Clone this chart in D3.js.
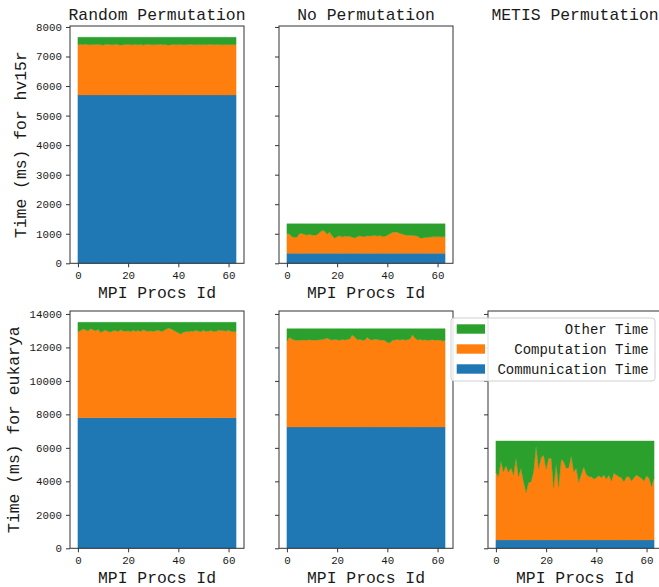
<!DOCTYPE html>
<html><head><meta charset="utf-8">
<script src="https://cdn.jsdelivr.net/npm/d3@7"></script>
<style>
body{margin:0;background:#fff}
svg text{font-family:"Liberation Mono","DejaVu Sans Mono",monospace;fill:#1a1a1a}
</style></head>
<body><svg id="chart" width="659" height="587"></svg>
<script>
// ---------- data ----------
const procIds = d3.range(64);
const columnTitles = ["Random Permutation", "No Permutation", "METIS Permutation"];
const rowLabels = ["Time (ms) for hv15r", "Time (ms) for eukarya"];
const seriesNames = ["Communication Time", "Computation Time", "Other Time"];
const xTickValues = [0, 20, 40, 60];
const yTicksHv15r = [0, 1000, 2000, 3000, 4000, 5000, 6000, 7000, 8000];
const yTicksEukarya = [0, 2000, 4000, 6000, 8000, 10000, 12000, 14000];

// hv15r, random permutation
const hvRandomComm = [5700,5700,5700,5700,5700,5700,5700,5700,5700,5700,5700,5700,5700,5700,5700,5700,5700,5700,5700,5700,5700,5700,5700,5700,5700,5700,5700,5700,5700,5700,5700,5700,5700,5700,5700,5700,5700,5700,5700,5700,5700,5700,5700,5700,5700,5700,5700,5700,5700,5700,5700,5700,5700,5700,5700,5700,5700,5700,5700,5700,5700,5700,5700,5700];
const hvRandomComp = [1705,1712,1698,1720,1702,1695,1710,1704,1716,1700,1690,1708,1714,1701,1696,1711,1703,1680,1699,1707,1713,1698,1702,1709,1695,1704,1690,1706,1712,1700,1697,1708,1703,1711,1699,1705,1685,1702,1709,1696,1704,1710,1700,1698,1707,1713,1702,1695,1706,1700,1709,1697,1704,1711,1699,1703,1708,1695,1702,1710,1700,1705,1698,1703];
const hvRandomOther = [245,238,252,230,248,255,240,246,234,250,260,242,236,249,254,239,247,270,251,243,237,252,248,241,255,246,260,244,238,250,253,242,247,239,251,245,265,248,241,254,246,240,250,252,243,237,248,255,244,250,241,253,246,239,251,247,242,255,248,240,250,245,252,247];

// hv15r, no permutation
const hvNoPermComm = [340,340,340,340,340,340,340,340,340,340,340,340,340,340,340,340,340,340,340,340,340,340,340,340,340,340,340,340,340,340,340,340,340,340,340,340,340,340,340,340,340,340,340,340,340,340,340,340,340,340,340,340,340,340,340,340,340,340,340,340,340,340,340,340];
const hvNoPermComp = [670,650,560,540,545,660,670,635,620,635,620,610,625,700,770,750,640,720,590,510,560,590,550,580,570,575,540,520,560,590,570,560,595,585,590,600,580,600,565,570,610,660,700,720,710,670,650,620,610,610,600,590,580,520,520,530,530,550,555,555,560,560,560,560];
const hvNoPermOther = [325,345,435,455,450,335,325,360,375,360,375,385,370,295,225,245,355,275,405,485,435,405,445,415,425,420,455,475,435,405,425,435,400,410,405,395,415,395,430,425,385,335,295,275,285,325,345,375,385,385,395,405,415,475,475,465,465,445,440,440,435,435,435,435];

// eukarya, random permutation
const eukRandomComm = [7800,7800,7800,7800,7800,7800,7800,7800,7800,7800,7800,7800,7800,7800,7800,7800,7800,7800,7800,7800,7800,7800,7800,7800,7800,7800,7800,7800,7800,7800,7800,7800,7800,7800,7800,7800,7800,7800,7800,7800,7800,7800,7800,7800,7800,7800,7800,7800,7800,7800,7800,7800,7800,7800,7800,7800,7800,7800,7800,7800,7800,7800,7800,7800];
const eukRandomComp = [5150,5200,5300,5250,5180,5320,5260,5190,5280,5100,5160,5240,5150,5120,5190,5210,5140,5250,5180,5160,5200,5140,5220,5170,5210,5150,5260,5190,5160,5200,5150,5190,5230,5160,5180,5280,5350,5320,5220,5150,5070,5000,5100,5150,5130,5180,5160,5220,5160,5140,5230,5150,5180,5210,5150,5160,5230,5210,5200,5180,5220,5160,5140,5150];
const eukRandomOther = [550,500,400,450,520,380,440,510,420,600,540,460,550,580,510,490,560,450,520,540,500,560,480,530,490,550,440,510,540,500,550,510,470,540,520,420,350,380,480,550,630,700,600,550,570,520,540,480,540,560,470,550,520,490,550,540,470,490,500,520,480,540,560,550];

// eukarya, no permutation
const eukNoPermComm = [7250,7250,7250,7250,7250,7250,7250,7250,7250,7250,7250,7250,7250,7250,7250,7250,7250,7250,7250,7250,7250,7250,7250,7250,7250,7250,7250,7250,7250,7250,7250,7250,7250,7250,7250,7250,7250,7250,7250,7250,7250,7250,7250,7250,7250,7250,7250,7250,7250,7250,7250,7250,7250,7250,7250,7250,7250,7250,7250,7250,7250,7250,7250,7250];
const eukNoPermComp = [5130,5350,5250,5190,5180,5170,5200,5190,5190,5210,5180,5200,5190,5210,5220,5250,5310,5230,5190,5220,5210,5180,5220,5200,5230,5250,5490,5370,5210,5230,5190,5180,5350,5230,5190,5250,5220,5190,5200,5170,5050,5030,5170,5200,5230,5190,5220,5190,5210,5250,5500,5310,5200,5220,5190,5210,5170,5190,5210,5180,5200,5190,5130,5170];
const eukNoPermOther = [740,520,620,680,690,700,670,680,680,660,690,670,680,660,650,620,560,640,680,650,660,690,650,670,640,620,380,500,660,640,680,690,520,640,680,620,650,680,670,700,820,840,700,670,640,680,650,680,660,620,370,560,670,650,680,660,700,680,660,690,670,680,740,700];

// eukarya, METIS permutation
const eukMetisComm = [500,500,500,500,500,500,500,500,500,500,500,500,500,500,500,500,500,500,500,500,500,500,500,500,500,500,500,500,500,500,500,500,500,500,500,500,500,500,500,500,500,500,500,500,500,500,500,500,500,500,500,500,500,500,500,500,500,500,500,500,500,500,500,500];
const eukMetisComp = [4038,3779,4715,4078,4436,4038,4317,3879,4874,3779,4277,3480,2843,3421,3480,4078,5631,4277,4914,5073,4237,4874,4874,3122,4516,3182,4815,4675,4277,4317,5034,4078,4277,3441,3919,4377,3919,3779,3779,3640,3719,3839,3719,3879,3640,3879,3520,3978,3879,3779,3719,3480,3779,3779,3520,3719,3879,3779,3680,3520,3839,3680,3182,3719];
const eukMetisOther = [1872,2131,1195,1832,1474,1872,1593,2031,1036,2131,1633,2430,3067,2489,2430,1832,279,1633,996,837,1673,1036,1036,2788,1394,2728,1095,1235,1633,1593,876,1832,1633,2469,1991,1533,1991,2131,2131,2270,2191,2071,2191,2031,2270,2031,2390,1932,2031,2131,2191,2430,2131,2131,2390,2191,2031,2131,2230,2390,2071,2230,2728,2191];

// ---------- layout ----------
const colors = ["#1f77b4", "#ff7f0e", "#2ca02c"];
const colLeft = [70, 279, 488];
const panelW = 174;
const rowTop = [26, 311];
const panelH = 237.3;
const FONT_BIG = 16.4, FONT_TICK = 10.8, FONT_LEG = 14;
const FONT_STACK = '"Liberation Mono","DejaVu Sans Mono",monospace';

const svg = d3.select("#chart");

const panels = [
  {row:0, col:0, series:[hvRandomComm, hvRandomComp, hvRandomOther]},
  {row:0, col:1, series:[hvNoPermComm, hvNoPermComp, hvNoPermOther]},
  {row:0, col:2, series:null},
  {row:1, col:0, series:[eukRandomComm, eukRandomComp, eukRandomOther]},
  {row:1, col:1, series:[eukNoPermComm, eukNoPermComp, eukNoPermOther]},
  {row:1, col:2, series:[eukMetisComm, eukMetisComp, eukMetisOther]}
];
const rowTicks = [yTicksHv15r, yTicksEukarya];

function tableOf(series){
  return procIds.map((p,i)=>({p, comm:series[0][i], comp:series[1][i], other:series[2][i]}));
}
const rowMax = [0,1].map(r => d3.max(panels.filter(d=>d.row===r && d.series), d =>
  d3.max(tableOf(d.series), t => t.comm + t.comp + t.other)));

const stack = d3.stack().keys(["comm","comp","other"]);

panels.forEach(pn => {
  const x0 = colLeft[pn.col], y0 = rowTop[pn.row];
  if (pn.row === 0) {
    svg.append("text").attr("x", x0 + panelW/2).attr("y", y0 - 6.5)
      .attr("text-anchor","middle").style("font-size", FONT_BIG+"px")
      .text(columnTitles[pn.col]);
  }
  if (!pn.series) return;
  const x = d3.scaleLinear().domain([-3.15, 66.15]).range([x0, x0 + panelW]);
  const y = d3.scaleLinear().domain([0, rowMax[pn.row]*1.05]).range([y0 + panelH, y0]);
  const g = svg.append("g");
  const layers = stack(tableOf(pn.series));
  const area = d3.area().x(d => x(d.data.p)).y0(d => y(d[0])).y1(d => y(d[1]));
  g.selectAll("path.layer").data(layers).join("path")
    .attr("class","layer").attr("d", area)
    .attr("fill", (d,i) => colors[i])
    .attr("stroke", (d,i) => colors[i]).attr("stroke-opacity", 0.5).attr("stroke-width", 0.8);

  g.append("rect").attr("x", x0).attr("y", y0).attr("width", panelW).attr("height", panelH)
    .attr("fill","none").attr("stroke","#333").attr("stroke-width",1);

  const ya = d3.axisLeft(y).tickValues(rowTicks[pn.row]).tickSize(4).tickPadding(4)
    .tickFormat(pn.col > 0 ? "" : d3.format("d"));
  const yg = g.append("g").attr("transform", `translate(${x0},0)`).call(ya);
  const xa = d3.axisBottom(x).tickValues(xTickValues).tickSize(4).tickPadding(4)
    .tickFormat(d3.format("d"));
  const xg = g.append("g").attr("transform", `translate(0,${y0 + panelH})`).call(xa);
  [yg, xg].forEach(a => {
    a.select(".domain").remove();
    a.selectAll("line").attr("stroke","#333");
    a.selectAll("text").style("font-size", FONT_TICK+"px").attr("fill","#1a1a1a")
      .style("font-family", FONT_STACK);
  });

  svg.append("text").attr("x", x0 + panelW/2).attr("y", y0 + panelH + 35)
    .attr("text-anchor","middle").style("font-size", FONT_BIG+"px").text("MPI Procs Id");

  if (pn.col === 0) {
    const lx = pn.row === 0 ? 21 : 14;
    svg.append("text")
      .attr("transform", `translate(${lx},${y0 + panelH/2}) rotate(-90)`)
      .attr("text-anchor","middle").attr("dominant-baseline","central")
      .style("font-size", FONT_BIG+"px").text(rowLabels[pn.row]);
  }
});

// ---------- legend ----------
const leg = svg.append("g");
leg.append("rect").attr("x", 451).attr("y", 318).attr("width", 204).attr("height", 63)
  .attr("rx", 3).attr("fill", "#fff").attr("fill-opacity", 0.85)
  .attr("stroke", "#d0d0d0").attr("stroke-width", 1);
const legOrder = [2, 1, 0];
legOrder.forEach((k, i) => {
  const cy = 329 + i*20;
  leg.append("rect").attr("x", 456.7).attr("y", cy - 4.7).attr("width", 28.3).attr("height", 9.4)
    .attr("fill", colors[k]);
  leg.append("text").attr("x", 648.7).attr("y", cy + 1).attr("text-anchor","end")
    .attr("dominant-baseline","central").style("font-size", FONT_LEG+"px").text(seriesNames[k]);
});
</script></body></html>
